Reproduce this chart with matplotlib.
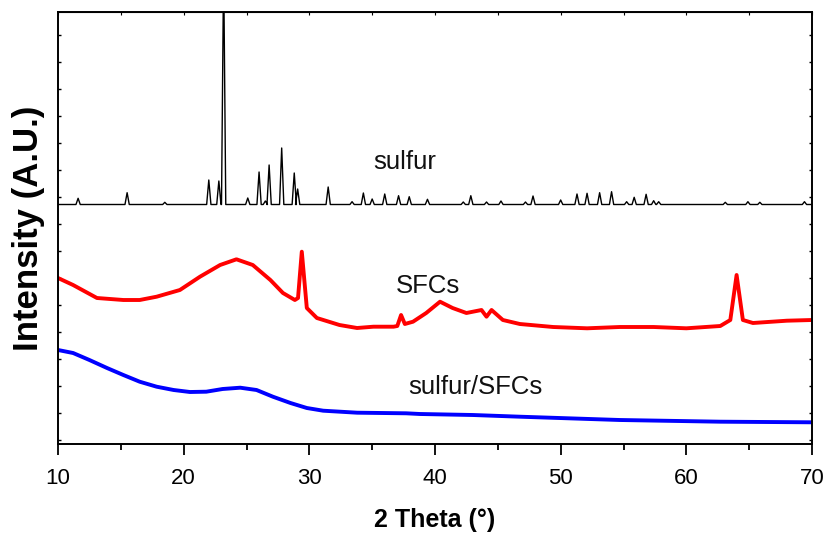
import matplotlib
matplotlib.use("Agg")
import matplotlib.pyplot as plt
import numpy as np

# ---- data (intensity in arbitrary units) ----
# sulfur: baseline level and peaks (position, apex intensity)
sulfur_base = 239.5
sulfur_peak_pos = [11.6, 15.5, 18.5, 22.0, 22.8, 23.18, 25.1, 26.0, 26.5, 26.8, 27.8, 28.8, 29.07,
                   31.5, 33.4, 34.3, 35.0, 36.0, 37.1, 37.95, 39.4, 42.25, 42.85, 44.1, 45.25,
                   47.2, 47.8, 50.0, 51.3, 52.1, 53.1, 54.05, 55.25, 55.85, 56.8, 57.4, 57.8,
                   63.1, 64.9, 65.85, 69.4]
sulfur_peak_int = [245.7, 251.3, 241.7, 264.0, 263.0, 480.0, 246.0, 272.0, 243.0, 279.0, 296.0, 271.0, 255.0,
                   257.0, 242.3, 251.0, 245.0, 250.0, 248.3, 247.3, 244.7, 242.0, 248.3, 242.0, 243.0,
                   242.0, 248.0, 244.0, 250.0, 250.7, 251.3, 252.3, 242.3, 246.7, 249.7, 243.3, 242.3,
                   241.7, 242.3, 241.7, 242.3]

# SFCs: broad profile points (2theta, intensity)
sfc_x = [10.0, 11.2, 13.1, 15.2, 16.5, 17.85, 19.7, 21.3, 22.9, 24.2, 25.5, 26.9, 27.9, 28.85,
         29.1, 29.4, 29.7, 29.8, 30.6, 32.4, 33.8, 35.1, 36.7, 37.0, 37.3, 37.6, 38.25, 39.3,
         40.4, 41.4, 42.5, 43.7, 44.1, 44.5, 45.4, 46.75, 49.4, 52.1, 54.7, 57.4, 60.0, 62.7,
         63.5, 64.0, 64.5, 65.3, 68.0, 70.0]
sfc_y = [166.0, 159.0, 146.0, 144.0, 144.0, 147.3, 154.0, 167.3, 179.0, 184.7, 179.0, 164.0, 151.0, 144.0,
         146.0, 192.3, 150.0, 136.0, 126.0, 119.0, 116.0, 117.3, 117.3, 118.0, 129.0, 120.0, 122.3, 131.0,
         142.3, 136.0, 131.0, 134.0, 127.3, 134.0, 124.0, 120.0, 117.0, 115.7, 117.0, 117.0, 115.7, 118.0,
         124.0, 169.0, 124.0, 121.0, 123.3, 124.0]

# sulfur/SFCs: broad profile points (2theta, intensity)
ssfc_x = [10.0, 11.2, 12.5, 13.9, 15.2, 16.5, 17.85, 19.2, 20.5, 21.8, 23.1, 24.5, 25.8, 27.1,
          28.5, 29.8, 31.1, 33.8, 37.7, 38.8, 43.0, 46.75, 54.7, 62.7, 70.0]
ssfc_y = [94.0, 91.0, 84.0, 76.0, 69.0, 62.3, 57.3, 54.0, 52.0, 52.3, 55.0, 56.3, 54.0, 47.3,
          41.0, 36.0, 33.3, 31.3, 30.7, 30.0, 29.0, 27.3, 24.0, 22.3, 21.7]

labels = ["sulfur", "SFCs", "sulfur/SFCs"]
label_pos = [(37.6, 282.0), (39.4, 158.0), (43.2, 57.0)]

x_ticks = [10, 20, 30, 40, 50, 60, 70]

# ---- build sulfur trace from its read peaks ----
half_w = 0.17
sx, sy = [10.0], [sulfur_base]
for p, h in zip(sulfur_peak_pos, sulfur_peak_int):
    sx += [p - half_w, p, p + half_w]
    sy += [sulfur_base, h, sulfur_base]
sx.append(70.0)
sy.append(sulfur_base)

fig = plt.figure(figsize=(8.27, 5.39), dpi=100)
ax = fig.add_axes([58 / 827, 95 / 539, 754 / 827, 432 / 539])

ax.plot(sx, sy, color="black", lw=1.0)
ax.plot(sfc_x, sfc_y, color="#ff0000", lw=2.8, solid_joinstyle="round")
ax.plot(ssfc_x, ssfc_y, color="#0000ff", lw=2.8, solid_joinstyle="round")

for t, (lx, ly) in zip(labels, label_pos):
    ax.text(lx, ly, t, fontsize=18.5, family=["Liberation Sans", "DejaVu Sans"],
            ha="center", va="center", color="#111111")

ax.set_xlim(10, 70)
ax.set_ylim(0, 432)
ax.set_xticks(x_ticks)
ax.set_xticks(np.arange(15, 70, 10), minor=True)
ax.set_xticklabels([str(v) for v in x_ticks], family=["Liberation Sans", "DejaVu Sans"],
                   fontsize=16)
ax.tick_params(axis="x", which="major", direction="out", length=8, width=1.3, pad=9)
ax.tick_params(axis="x", which="minor", direction="out", length=4, width=1.3)
ax.set_yticks(np.arange(4, 432, 27))
ax.set_yticklabels([])
ax.tick_params(axis="y", which="major", direction="in", length=2.5, width=1.0, left=True, right=True)
for s in ax.spines.values():
    s.set_linewidth(1.4)

# tiny inward ticks on top axis
sec = ax.secondary_xaxis("top")
sec.set_xticks(np.arange(10, 71, 5))
sec.set_xticklabels([])
sec.tick_params(direction="in", length=2, width=0.8)

ax.set_xlabel("2 Theta (°)", family=["Liberation Sans", "DejaVu Sans"],
              fontsize=18, fontweight="bold", labelpad=14)
ax.set_ylabel("Intensity (A.U.)", family=["Liberation Sans", "DejaVu Sans"],
              fontsize=25, fontweight="bold", labelpad=6)

fig.savefig("out.png", dpi=100)
